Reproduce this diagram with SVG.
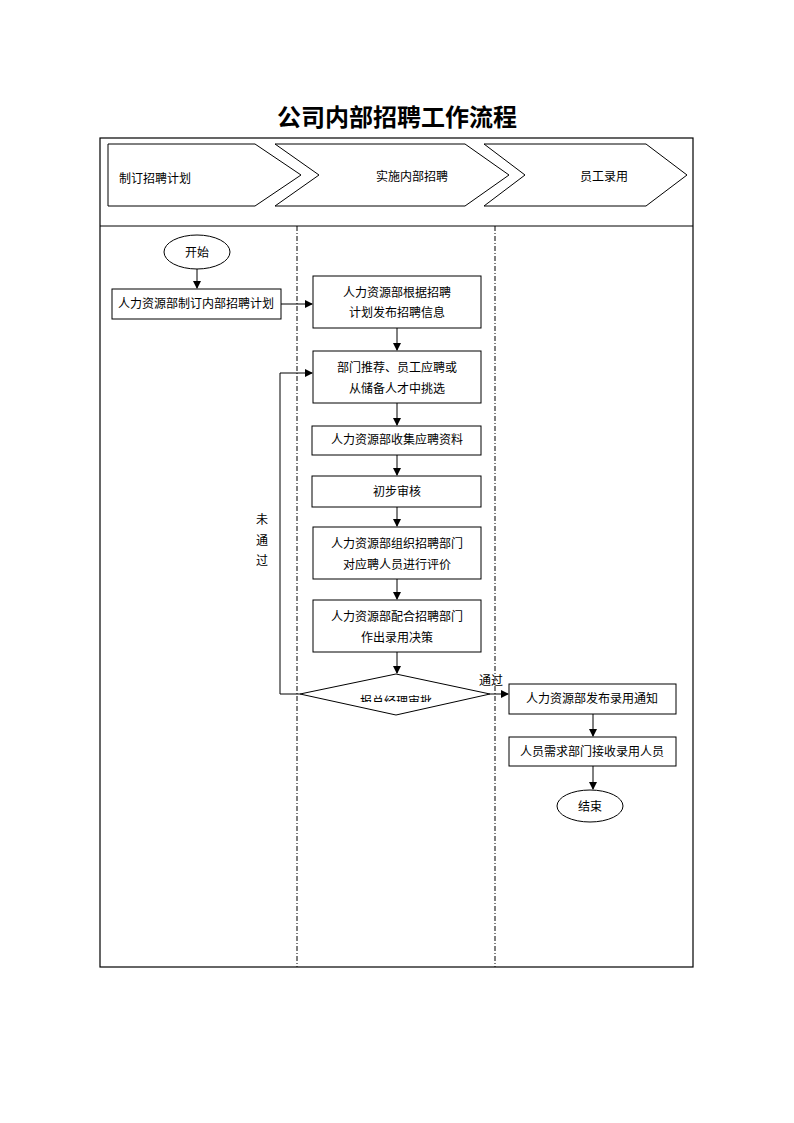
<svg xmlns="http://www.w3.org/2000/svg" width="794" height="1123" viewBox="0 0 794 1123">
<style>
.t{font-family:"Liberation Sans","Noto Sans CJK SC",sans-serif;font-size:12px;fill:#000;text-anchor:middle}
.box{fill:#fff;stroke:#000;stroke-width:1}
.ln{fill:none;stroke:#000;stroke-width:1}
.dash{fill:none;stroke:#000;stroke-width:1;stroke-dasharray:5,2,1,2}
</style>
<defs>
<marker id="ah" markerWidth="8" markerHeight="8" refX="7" refY="4" orient="auto" markerUnits="userSpaceOnUse">
<path d="M0,0 L8,4 L0,8 Z" fill="#000"/>
</marker>
<clipPath id="dclip"><rect x="300" y="690" width="200" height="12"/></clipPath>
</defs>
<rect width="794" height="1123" fill="#fff"/>
<text x="397" y="126" style="font-family:'Liberation Serif','Noto Sans CJK SC',serif;font-size:24px;font-weight:bold;text-anchor:middle">公司内部招聘工作流程</text>
<g id="frame">
<rect x="100" y="138" width="593" height="829" fill="none" stroke="#000" stroke-width="1.2"/>
<line x1="100" y1="226" x2="693" y2="226" class="ln"/>
<line x1="297" y1="226" x2="297" y2="967" class="dash"/>
<line x1="495" y1="226" x2="495" y2="967" class="dash"/>
</g>
<g id="phase1"><path d="M108,144 L255,144 L301,175 L255,206 L108,206 Z" class="ln"/><text x="155" y="183" class="t">制订招聘计划</text></g>
<g id="phase2"><path d="M275,144 L465,144 L509,175 L465,206 L275,206 L319,175 Z" class="ln"/><text x="412" y="181" class="t">实施内部招聘</text></g>
<g id="phase3"><path d="M484,144 L646,144 L687,175 L646,206 L484,206 L525,175 Z" class="ln"/><text x="604" y="181" class="t">员工录用</text></g>
<g id="connectors">
<line x1="197" y1="269" x2="197" y2="288" class="ln" marker-end="url(#ah)"/>
<line x1="281" y1="304" x2="312" y2="304" class="ln" marker-end="url(#ah)"/>
<line x1="397" y1="328" x2="397" y2="350" class="ln" marker-end="url(#ah)"/>
<line x1="397" y1="403" x2="397" y2="425" class="ln" marker-end="url(#ah)"/>
<line x1="397" y1="455" x2="397" y2="475" class="ln" marker-end="url(#ah)"/>
<line x1="397" y1="507" x2="397" y2="526" class="ln" marker-end="url(#ah)"/>
<line x1="397" y1="579" x2="397" y2="599" class="ln" marker-end="url(#ah)"/>
<line x1="397" y1="652" x2="397" y2="673" class="ln" marker-end="url(#ah)"/>
<polyline points="300,694 280,694 280,373 312,373" class="ln" marker-end="url(#ah)"/>
<line x1="490" y1="694" x2="508" y2="694" class="ln" marker-end="url(#ah)"/>
<line x1="593" y1="714" x2="593" y2="736" class="ln" marker-end="url(#ah)"/>
<line x1="593" y1="766" x2="593" y2="789" class="ln" marker-end="url(#ah)"/>
<text x="262" y="524" class="t">未</text>
<text x="262" y="545" class="t">通</text>
<text x="262" y="565" class="t">过</text>
<text x="491" y="685" class="t">通过</text>
</g>
<g id="start"><ellipse cx="197" cy="252" rx="33" ry="17" class="box"/><text x="197" y="257" class="t">开始</text></g>
<g id="n1"><rect x="112" y="289" width="169" height="30" class="box"/><text x="196" y="308" class="t">人力资源部制订内部招聘计划</text></g>
<g id="n2"><rect x="313" y="276" width="168" height="52" class="box"/><text x="397" y="297" class="t">人力资源部根据招聘</text><text x="397" y="317" class="t">计划发布招聘信息</text></g>
<g id="n3"><rect x="313" y="351" width="168" height="52" class="box"/><text x="397" y="372" class="t">部门推荐、员工应聘或</text><text x="397" y="393" class="t">从储备人才中挑选</text></g>
<g id="n4"><rect x="312" y="426" width="169" height="29" class="box"/><text x="397" y="444" class="t">人力资源部收集应聘资料</text></g>
<g id="n5"><rect x="312" y="476" width="169" height="31" class="box"/><text x="397" y="496" class="t">初步审核</text></g>
<g id="n6"><rect x="313" y="527" width="168" height="52" class="box"/><text x="397" y="548" class="t">人力资源部组织招聘部门</text><text x="397" y="569" class="t">对应聘人员进行评价</text></g>
<g id="n7"><rect x="313" y="600" width="168" height="52" class="box"/><text x="397" y="621" class="t">人力资源部配合招聘部门</text><text x="397" y="642" class="t">作出录用决策</text></g>
<g id="decision"><path d="M396,674 L490,694 L396,715 L300,694 Z" class="box"/><text x="396" y="706" class="t" clip-path="url(#dclip)">报总经理审批</text></g>
<g id="n8"><rect x="509" y="684" width="167" height="30" class="box"/><text x="592" y="703" class="t">人力资源部发布录用通知</text></g>
<g id="n9"><rect x="509" y="737" width="167" height="29" class="box"/><text x="592" y="756" class="t">人员需求部门接收录用人员</text></g>
<g id="end"><ellipse cx="590" cy="806" rx="33" ry="16" class="box"/><text x="590" y="811" class="t">结束</text></g>
</svg>
